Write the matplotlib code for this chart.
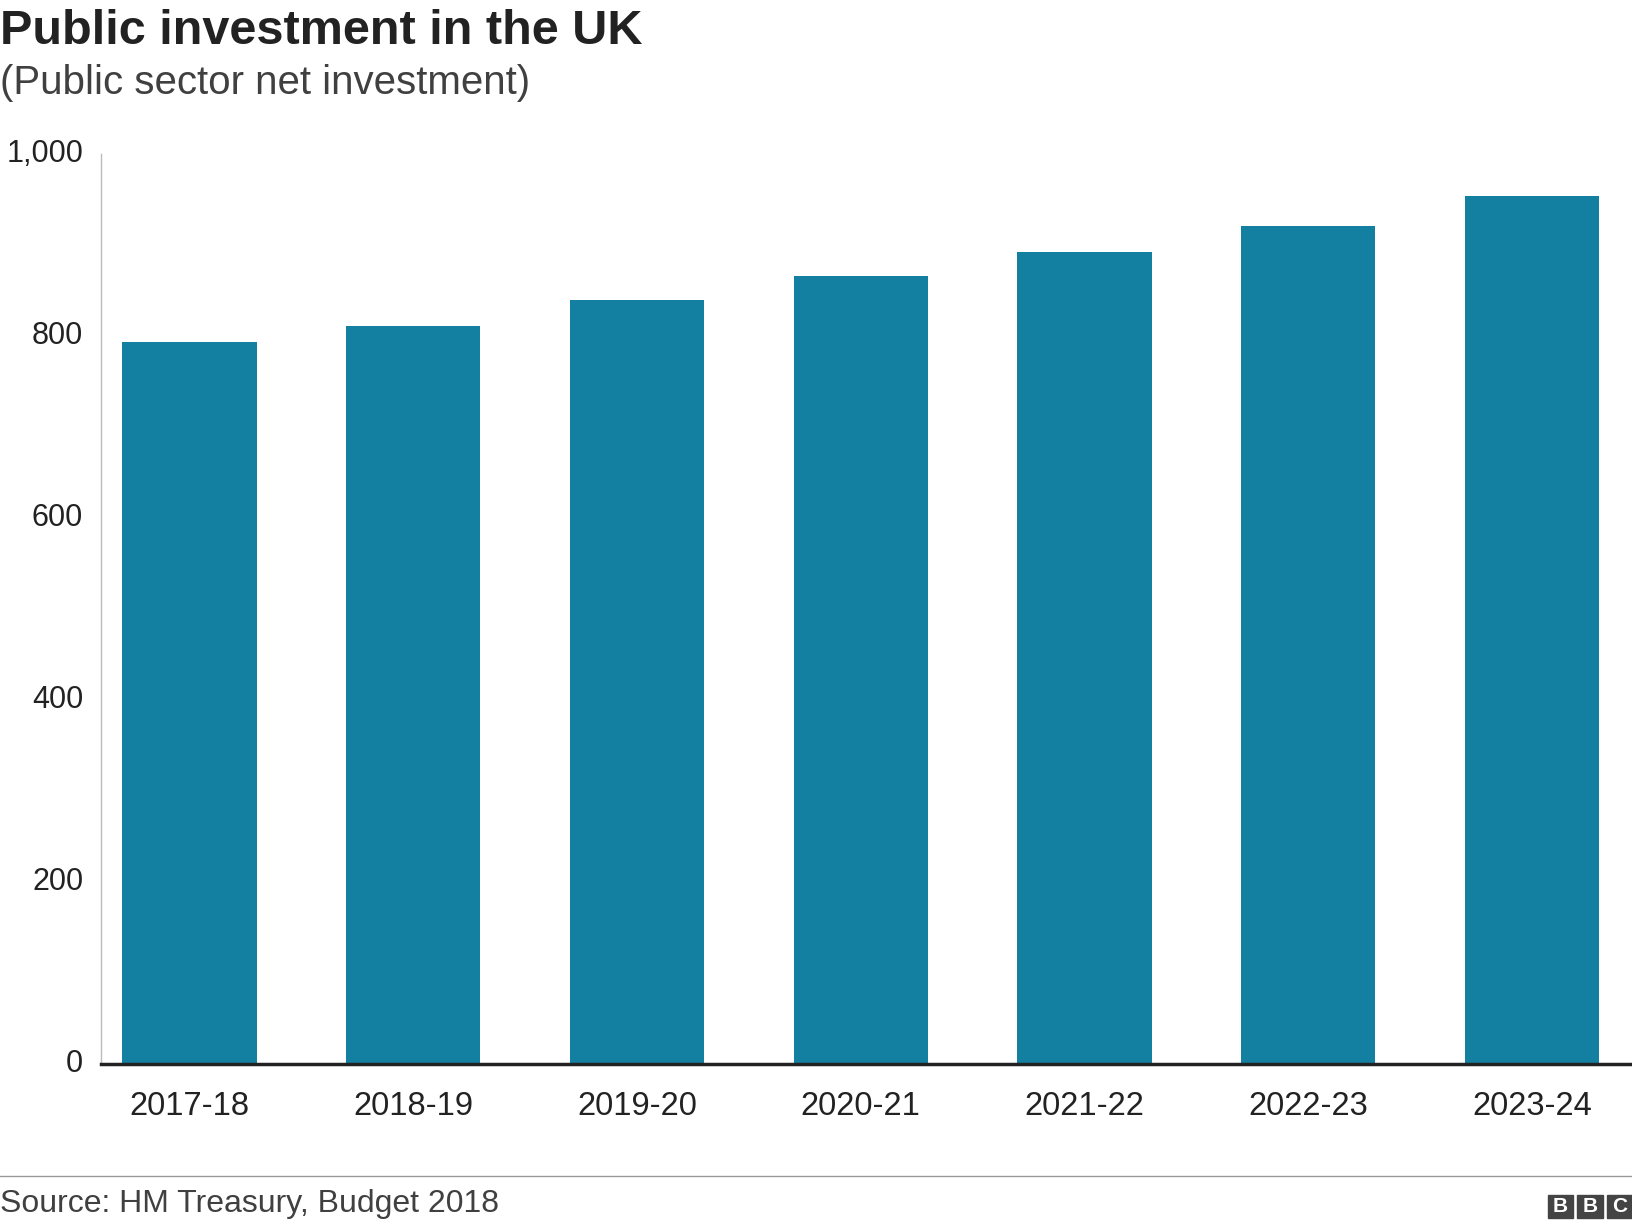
import matplotlib
matplotlib.use("Agg")
import matplotlib.pyplot as plt
from matplotlib.patches import Rectangle

categories = ["2017-18", "2018-19", "2019-20", "2020-21", "2021-22", "2022-23", "2023-24"]
values = [794, 811, 840, 866, 892, 921, 954]
yticks = [0, 200, 400, 600, 800, 1000]
ytick_labels = ["0", "200", "400", "600", "800", "1,000"]

plt.rcParams["font.family"] = "Liberation Sans"
fig = plt.figure(figsize=(16.32, 12.24), dpi=100)
ax = fig.add_axes([0.062, 0.131, 0.938, 0.743])
x = range(len(categories))
ax.bar(x, values, width=0.6, color="#1380A1")
ax.set_xlim(-0.395, len(categories) - 1 + 0.447)
ax.set_ylim(0, 1000)
ax.set_yticks(yticks)
ax.set_yticklabels(ytick_labels)
ax.set_xticks(list(x))
ax.set_xticklabels(categories)
ax.tick_params(axis="both", length=0, labelsize=23.5, colors="#222222")
ax.tick_params(axis="x", pad=20)
ax.tick_params(axis="y", pad=13, labelsize=22)
for lab in ax.get_yticklabels():
    lab.set_verticalalignment("center")
for s in ["top", "right"]:
    ax.spines[s].set_visible(False)
ax.spines["left"].set_color("#bbbbbb")
ax.spines["left"].set_linewidth(1)
ax.spines["bottom"].set_color("#222222")
ax.spines["bottom"].set_linewidth(2.5)

fig.text(0.0, 0.974, "Public investment in the UK", fontsize=35, fontweight="bold", va="center", ha="left", color="#222222")
fig.text(0.0, 0.932, "(Public sector net investment)", fontsize=29, va="center", ha="left", color="#404040")
fig.add_artist(plt.Line2D([0, 1], [0.039, 0.039], color="#999999", lw=1))
fig.text(0.0, 0.016, "Source: HM Treasury, Budget 2018", fontsize=23, va="center", ha="left", color="#404040")

# BBC logo
bw, bh, gap = 0.0155, 0.0185, 0.0025
x0 = 1 - 3 * bw - 2 * gap
for i, letter in enumerate("BBC"):
    xi = x0 + i * (bw + gap)
    fig.add_artist(Rectangle((xi, 0.005), bw, bh, transform=fig.transFigure, color="#444444"))
    fig.text(xi + bw / 2, 0.005 + bh / 2, letter, fontsize=15, fontweight="bold", color="white", ha="center", va="center")

fig.savefig("out.png", dpi=100)
